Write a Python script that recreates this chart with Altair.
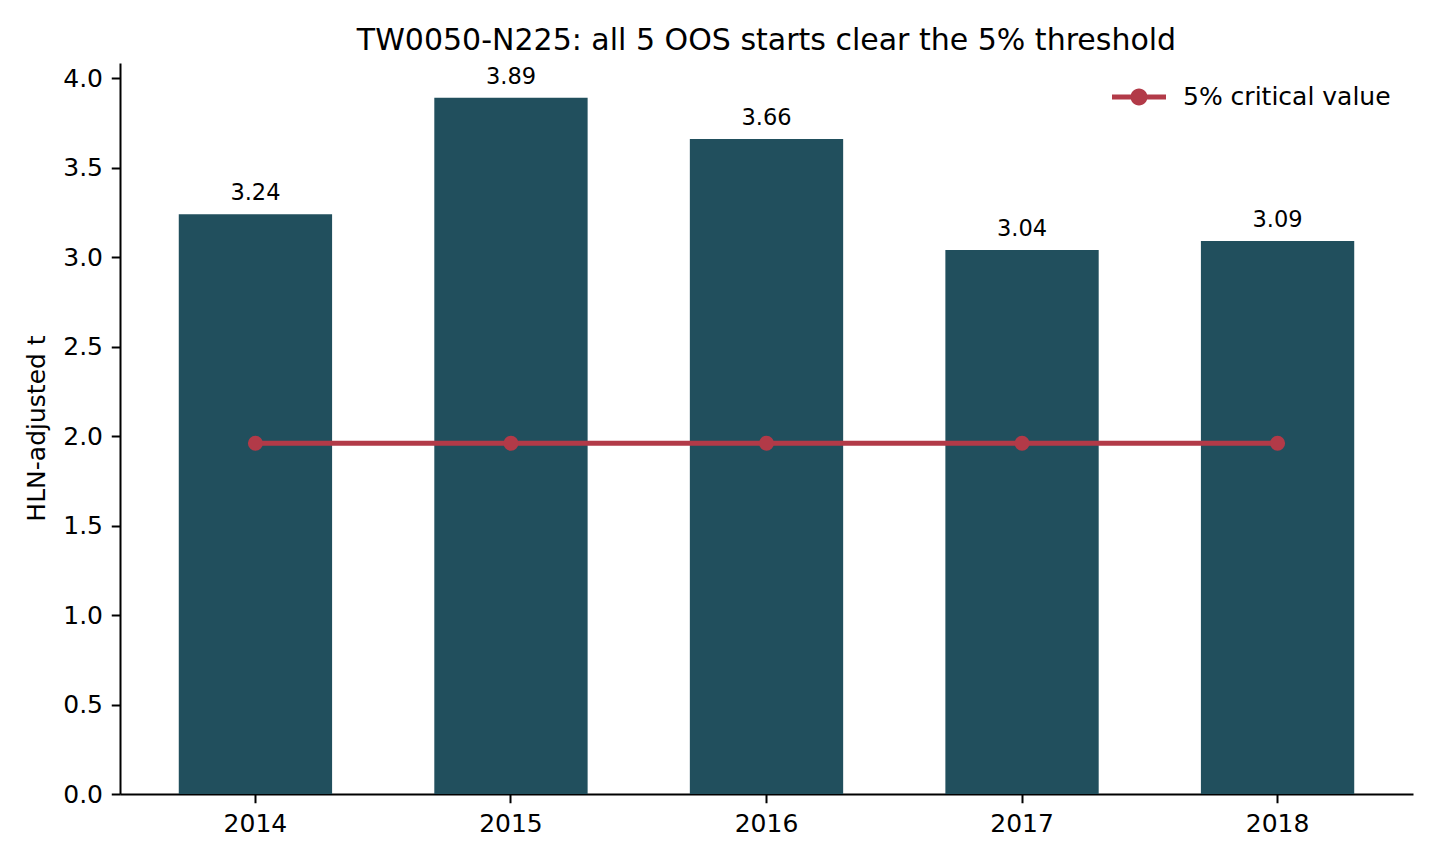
import altair as alt
import pandas as pd

# OOS start years and HLN-adjusted t statistics
years = ["2014", "2015", "2016", "2017", "2018"]
t_stats = [3.24, 3.89, 3.66, 3.04, 3.09]
crit_5pct = [1.96, 1.96, 1.96, 1.96, 1.96]
series_name = "5% critical value"

BAR_COLOR = "#214f5d"
LINE_COLOR = "#b23a48"
FONT = "DejaVu Sans"

df = pd.DataFrame({
    "year": years,
    "t": t_stats,
    "crit": crit_5pct,
    "series": [series_name] * len(years),
})

x_enc = alt.X(
    "year:N",
    sort=years,
    title=None,
    scale=alt.Scale(paddingInner=0.4, paddingOuter=0.23),
    axis=alt.Axis(labelAngle=0),
)
y_scale = alt.Scale(domain=[0, max(t_stats) * 1.05], nice=False, zero=True)

base = alt.Chart(df)

bars = base.mark_bar(color=BAR_COLOR).encode(
    x=x_enc,
    y=alt.Y(
        "t:Q",
        scale=y_scale,
        axis=alt.Axis(
            title="HLN-adjusted t",
            values=[0, 0.5, 1.0, 1.5, 2.0, 2.5, 3.0, 3.5, 4.0],
            format=".1f",
            titleAngle=-90,
            titleAlign="center",
            titleBaseline="alphabetic",
            titleX=-76,
            titleY=365,
        ),
    ),
)

labels = base.mark_text(
    baseline="alphabetic", dy=-14, fontSize=22.5, font=FONT, color="black"
).encode(
    x=alt.X("year:N", sort=years),
    y=alt.Y("t:Q", scale=y_scale),
    text=alt.Text("t:Q", format=".2f"),
)

line = base.mark_line(color=LINE_COLOR, strokeWidth=5).encode(
    x=alt.X("year:N", sort=years),
    y=alt.Y("crit:Q", scale=y_scale),
)

# legend glyph: a short bar with a dot on it, both filled
glyph = (
    "M-1,-0.0926L1,-0.0926L1,0.0926L-1,0.0926Z"
    "M0.315,0A0.315,0.315,0,1,1,-0.315,0A0.315,0.315,0,1,1,0.315,0Z"
)

points = base.mark_point(filled=True, size=227, opacity=1).encode(
    x=alt.X("year:N", sort=years),
    y=alt.Y("crit:Q", scale=y_scale),
    color=alt.Color(
        "series:N",
        scale=alt.Scale(domain=[series_name], range=[LINE_COLOR]),
        legend=alt.Legend(
            title=None,
            orient="none",
            legendX=992,
            legendY=7,
            symbolType=glyph,
            symbolSize=2916,
            symbolStrokeWidth=0,
            symbolOpacity=1,
            labelFontSize=25,
            labelFont=FONT,
            labelColor="black",
            labelOffset=17,
            labelLimit=400,
            padding=0,
        ),
    ),
)

chart = (
    alt.layer(bars, labels, line, points)
    .properties(
        width=1293,
        height=731,
        title=alt.TitleParams(
            "TW0050-N225: all 5 OOS starts clear the 5% threshold",
            fontSize=30,
            font=FONT,
            fontWeight="normal",
            color="black",
            anchor="middle",
            baseline="alphabetic",
            offset=-17,
        ),
        autosize=alt.AutoSizeParams(type="none"),
        padding={"left": 120, "top": 63, "right": 27, "bottom": 70},
        background="white",
    )
    .configure_view(stroke=None)
    .configure_axis(
        grid=False,
        domainColor="black",
        domainWidth=2,
        tickColor="black",
        tickWidth=2,
        tickSize=8.75,
        labelPadding=8.75,
        labelFont=FONT,
        labelFontSize=25,
        labelColor="black",
        titleFont=FONT,
        titleFontSize=25,
        titleColor="black",
        titleFontWeight="normal",
    )
)

chart.save("out.html", embed_options={"renderer": "svg", "actions": False})
